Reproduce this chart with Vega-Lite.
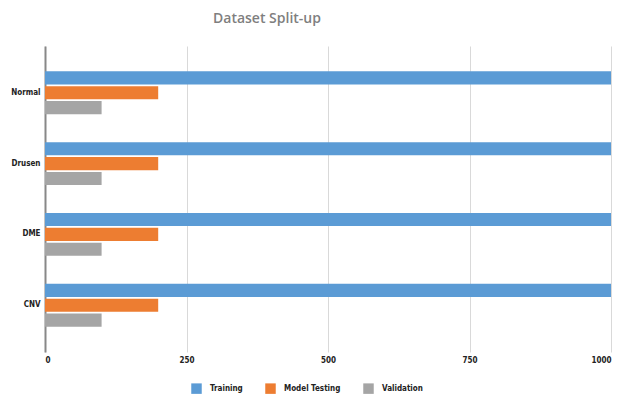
{
  "$schema": "https://vega.github.io/schema/vega-lite/v6.json",
  "width": 566,
  "height": 306,
  "autosize": "none",
  "padding": {"left": 45, "top": 46, "right": 11, "bottom": 47},
  "background": "white",
  "title": {
    "text": "Dataset Split-up",
    "anchor": "start",
    "frame": "group",
    "dx": 168,
    "offset": 20,
    "fontSize": 14,
    "font": "Open Sans",
    "fontWeight": 600,
    "color": "#7f7f7f"
  },
  "data": {
    "values": [
      {"class": "Normal", "set": "Training", "count": 1000},
      {"class": "Normal", "set": "Model Testing", "count": 200},
      {"class": "Normal", "set": "Validation", "count": 100},
      {"class": "Drusen", "set": "Training", "count": 1000},
      {"class": "Drusen", "set": "Model Testing", "count": 200},
      {"class": "Drusen", "set": "Validation", "count": 100},
      {"class": "DME", "set": "Training", "count": 1000},
      {"class": "DME", "set": "Model Testing", "count": 200},
      {"class": "DME", "set": "Validation", "count": 100},
      {"class": "CNV", "set": "Training", "count": 1000},
      {"class": "CNV", "set": "Model Testing", "count": 200},
      {"class": "CNV", "set": "Validation", "count": 100}
    ]
  },
  "mark": {"type": "bar"},
  "encoding": {
    "y": {
      "field": "class",
      "type": "nominal",
      "sort": ["Normal", "Drusen", "DME", "CNV"],
      "scale": {"paddingInner": 0, "paddingOuter": 0.16},
      "axis": {
        "title": null,
        "domainColor": "#888888",
        "domainWidth": 2,
        "ticks": false,
        "labelPadding": 5,
        "labelFont": "DejaVu Sans Condensed, Liberation Sans, sans-serif",
        "labelFontWeight": "bold",
        "labelFontSize": 8,
        "labelColor": "#222222"
      }
    },
    "yOffset": {
      "field": "set",
      "sort": ["Training", "Model Testing", "Validation"],
      "scale": {"paddingInner": 0.12, "paddingOuter": 0.94}
    },
    "x": {
      "field": "count",
      "type": "quantitative",
      "scale": {"domain": [0, 1000], "nice": false},
      "axis": {
        "title": null,
        "values": [0, 250, 500, 750, 1000],
        "format": "d",
        "domain": false,
        "ticks": false,
        "grid": true,
        "gridColor": "#d9d9d9",
        "labelPadding": 4,
        "labelFont": "DejaVu Sans Condensed, Liberation Sans, sans-serif",
        "labelFontWeight": "bold",
        "labelFontSize": 8,
        "labelColor": "#222222"
      }
    },
    "color": {
      "field": "set",
      "type": "nominal",
      "sort": ["Training", "Model Testing", "Validation"],
      "scale": {
        "domain": ["Training", "Model Testing", "Validation"],
        "range": ["#5b9bd5", "#ed7d31", "#a5a5a5"]
      },
      "legend": {
        "title": null,
        "orient": "none",
        "legendX": 146,
        "legendY": 337,
        "direction": "horizontal",
        "symbolType": "square",
        "symbolSize": 110,
        "symbolStrokeWidth": 0,
        "columnPadding": 22,
        "labelOffset": 8,
        "labelFont": "DejaVu Sans Condensed, Liberation Sans, sans-serif",
        "labelFontWeight": "bold",
        "labelFontSize": 8,
        "labelColor": "#222222"
      }
    }
  },
  "config": {"view": {"stroke": null}}
}
